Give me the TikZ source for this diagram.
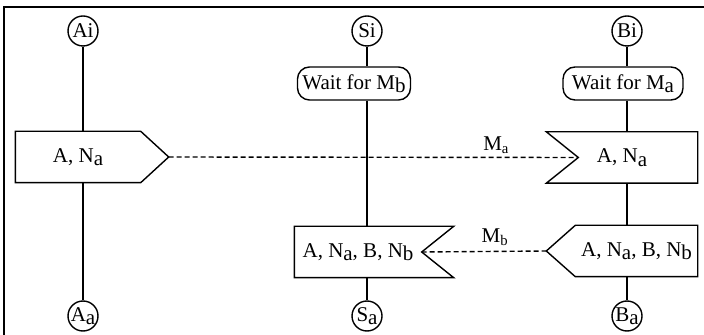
\documentclass[tikz,border=0pt]{standalone}
\usepackage{fontspec}
\setmainfont{Liberation Serif}
\usetikzlibrary{calc}
\usetikzlibrary{positioning}
\newcommand{\lowr}[1]{\raisebox{-0.35ex}{#1}}
\tikzset{
	state/.style={draw, circle, minimum size=15pt, inner sep=0pt},
	waitbox/.style={draw, rounded corners=6pt, minimum width=56.5pt, minimum height=16.5pt, inner sep=0pt},
	body/.style={minimum height=25pt, inner sep=0pt},
	msg/.style={dashed, dash pattern=on 2.4pt off 1.6pt},
}

\begin{document}
\begin{tikzpicture}[x=0.5pt, y=-0.5pt, line width=0.7pt, font=\fontsize{10.5}{12.5}\selectfont]
	\useasboundingbox (0,0) rectangle (704,335);
	\draw[line width=1pt] (4,335) -- (4,7) -- (704,7);
	
	% the three processes
	\node[state] (Ai) at (83,31) {Ai};
	\node[state] (Aa) at (83,316) {A\lowr{a}};
	\node[state] (Si) at (367,31) {Si};
	\node[state] (Sa) at (367,316) {S\lowr{a}};
	\node[state] (Bi) at (627,31) {Bi};
	\node[state] (Ba) at (627,316) {B\lowr{a}};
	
	\node[waitbox] (waitS) at (354,83.5) {Wait for M\lowr{b}};
	\node[waitbox, minimum width=60pt] (waitB) at (623,83.5) {Wait for M\lowr{a}};
	
	% send and receive boxes
	\node[body, minimum width=62pt] (sendA) at (78,157) {A, N\lowr{a}};
	\node[body, minimum width=75pt] (recvB) at (622,157.5) {A, N\lowr{a}};
	\node[body, minimum width=63pt] (recvS) at (358,252) {A, N\lowr{a}, B, N\lowr{b}};
	\node[body, minimum width=60.5pt] (sendB) at (636.5,251) {A, N\lowr{a}, B, N\lowr{b}};
	
	\coordinate (tipA) at ($(sendA.east)+(28,0)$);
	\coordinate (notchB) at ($(recvB.west)+(32,0)$);
	\coordinate (tipB) at ($(sendB.west)+(-29,0)$);
	
	\draw (sendA.north west) -- (sendA.north east) -- (tipA) -- (sendA.south east) -- (sendA.south west) -- cycle;
	\draw (recvB.north west) -- (recvB.north east) -- (recvB.south east) -- (recvB.south west) -- (notchB) -- cycle;
	\draw (recvS.north west) -- ($(recvS.north east)+(32,0)$) -- (recvS.east) -- ($(recvS.south east)+(32,0)$) -- (recvS.south west) -- cycle;
	\draw (sendB.north west) -- (sendB.north east) -- (sendB.south east) -- (sendB.south west) -- (tipB) -- cycle;
	
	% control flow
	\draw (Ai) -- (Ai |- sendA.north);
	\draw (Ai |- sendA.south) -- (Aa);
	\draw (Si) -- (Si |- waitS.north);
	\draw (Si |- waitS.south) -- (Si |- recvS.north);
	\draw (Si |- recvS.south) -- (Sa);
	\draw (Bi) -- (Bi |- waitB.north);
	\draw (Bi |- waitB.south) -- (Bi |- recvB.north);
	\draw (Bi |- recvB.south) -- (Bi |- sendB.north);
	\draw (Bi |- sendB.south) -- (Ba);
	
	% messages
	\draw[msg] (tipA) -- (notchB) node[pos=0.8, above, yshift=-2pt] {M\textsubscript{a}};
	\draw[msg] (recvS.east) -- (tipB) node[pos=0.59, above, yshift=-1pt] {M\textsubscript{b}};
\end{tikzpicture}
\end{document}
